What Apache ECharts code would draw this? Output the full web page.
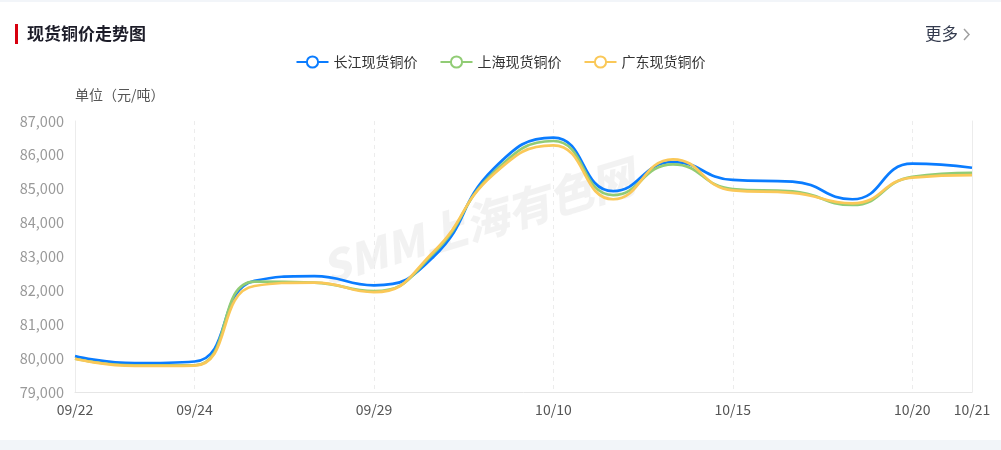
<!DOCTYPE html>
<html><head><meta charset="utf-8">
<script src="https://cdn.jsdelivr.net/npm/echarts@6/dist/echarts.min.js"></script>
<style>html,body{margin:0;padding:0;background:#fff;}#c{width:1001px;height:450px;}</style>
</head><body><div id="c"></div>
<script>
var categories = ['09/22','09/23','09/24','09/25','09/26','09/29','09/30','10/09','10/10','10/13','10/14','10/15','10/16','10/17','10/20','10/21'];
var changjiang = [80060, 79850, 79900, 82280, 82420, 82150, 83000, 85590, 86510, 84930, 85790, 85260, 85210, 84690, 85740, 85620];
var shanghai   = [79980, 79790, 79790, 82260, 82230, 81980, 83100, 85480, 86410, 84810, 85720, 84990, 84920, 84520, 85350, 85470];
var guangdong  = [79980, 79770, 79780, 82130, 82230, 81950, 83150, 85430, 86280, 84690, 85870, 84950, 84880, 84570, 85330, 85400];
var seriesNames = ['长江现货铜价','上海现货铜价','广东现货铜价'];
var colors = ['#0a7cff','#91cc75','#fac858'];
var FONT = '"Noto Sans CJK SC", "Noto Sans", sans-serif';

var chart = echarts.init(document.getElementById('c'), null, {renderer:'canvas'});
function labelShown(i){ return i===0 || i===categories.length-1 || (i-2)%3===0; }
function splitShown(i){ return i!==0 && i!==categories.length-1 && (i-2)%3===0; }
function mk(name, data, color){
  return {name:name, type:'line', data:data, smooth:true, symbol:'emptyCircle', symbolSize:9, showSymbol:false,
    lineStyle:{width:2.7, color:color}, itemStyle:{color:color, borderWidth:2.5}};
}
chart.setOption({
  animation:false,
  textStyle:{fontFamily:FONT},
  color:colors,
  grid:{left:75, right:29, top:121, bottom:58, containLabel:false},
  legend:{top:50, left:'center', itemWidth:32, itemHeight:14, itemGap:22,
    textStyle:{fontSize:14, color:'#333', fontFamily:FONT},
    data:seriesNames},
  graphic:[
    {type:'rect', left:0, top:0, shape:{width:1001, height:2}, style:{fill:'#f2f5f9'}},
    {type:'rect', left:0, top:440, shape:{width:1001, height:10}, style:{fill:'#f2f5f9'}},
    {type:'rect', left:15, top:24, shape:{width:3, height:20}, style:{fill:'#d7000f'}},
    {type:'text', left:27, top:25, style:{text:'现货铜价走势图', font:'bold 17px '+FONT, fill:'#1c1c28'}},
    {type:'text', left:925, top:25, style:{text:'更多', font:'16.5px '+FONT, fill:'#333a4d'}},
    {type:'polyline', shape:{points:[[964,29],[969,34.5],[964,40]]}, style:{stroke:'#a0a0a0', lineWidth:1.5, fill:null}},
    {type:'text', left:75, top:88, style:{text:'单位（元/吨）', font:'14px '+FONT, fill:'#555'}},
    {type:'text', x:478, y:222, rotation:17*Math.PI/180, z:-1,
      style:{text:'SMM上海有色网', font:'italic 900 44px '+FONT, fill:'rgba(0,0,0,0.05)', align:'center', verticalAlign:'middle'}}
  ],
  xAxis:{type:'category', data:categories, boundaryGap:false,
    axisLine:{show:true, lineStyle:{color:'#e6e6e6', width:1}},
    axisTick:{show:false},
    axisLabel:{interval:function(i){return labelShown(i);}, color:'#555', fontSize:14, margin:11, fontFamily:FONT},
    splitLine:{show:true, interval:function(i){return splitShown(i);}, lineStyle:{type:[4,4], color:'#ececec'}}
  },
  yAxis:[
    {type:'value', min:79000, max:87000, interval:1000,
      axisLine:{show:true, lineStyle:{color:'#ececec'}}, axisTick:{show:false},
      axisLabel:{color:'#999', fontSize:14.5, margin:11, fontFamily:FONT,
        formatter:function(v){return v.toLocaleString('en-US');}},
      splitLine:{show:false}},
    {type:'value', min:79000, max:87000, interval:1000, position:'right',
      axisLine:{show:true, lineStyle:{color:'#ececec'}}, axisTick:{show:false},
      axisLabel:{show:false}, splitLine:{show:false}}
  ],
  series:[mk(seriesNames[0], changjiang, colors[0]), mk(seriesNames[1], shanghai, colors[1]), mk(seriesNames[2], guangdong, colors[2])]
});
</script></body></html>
